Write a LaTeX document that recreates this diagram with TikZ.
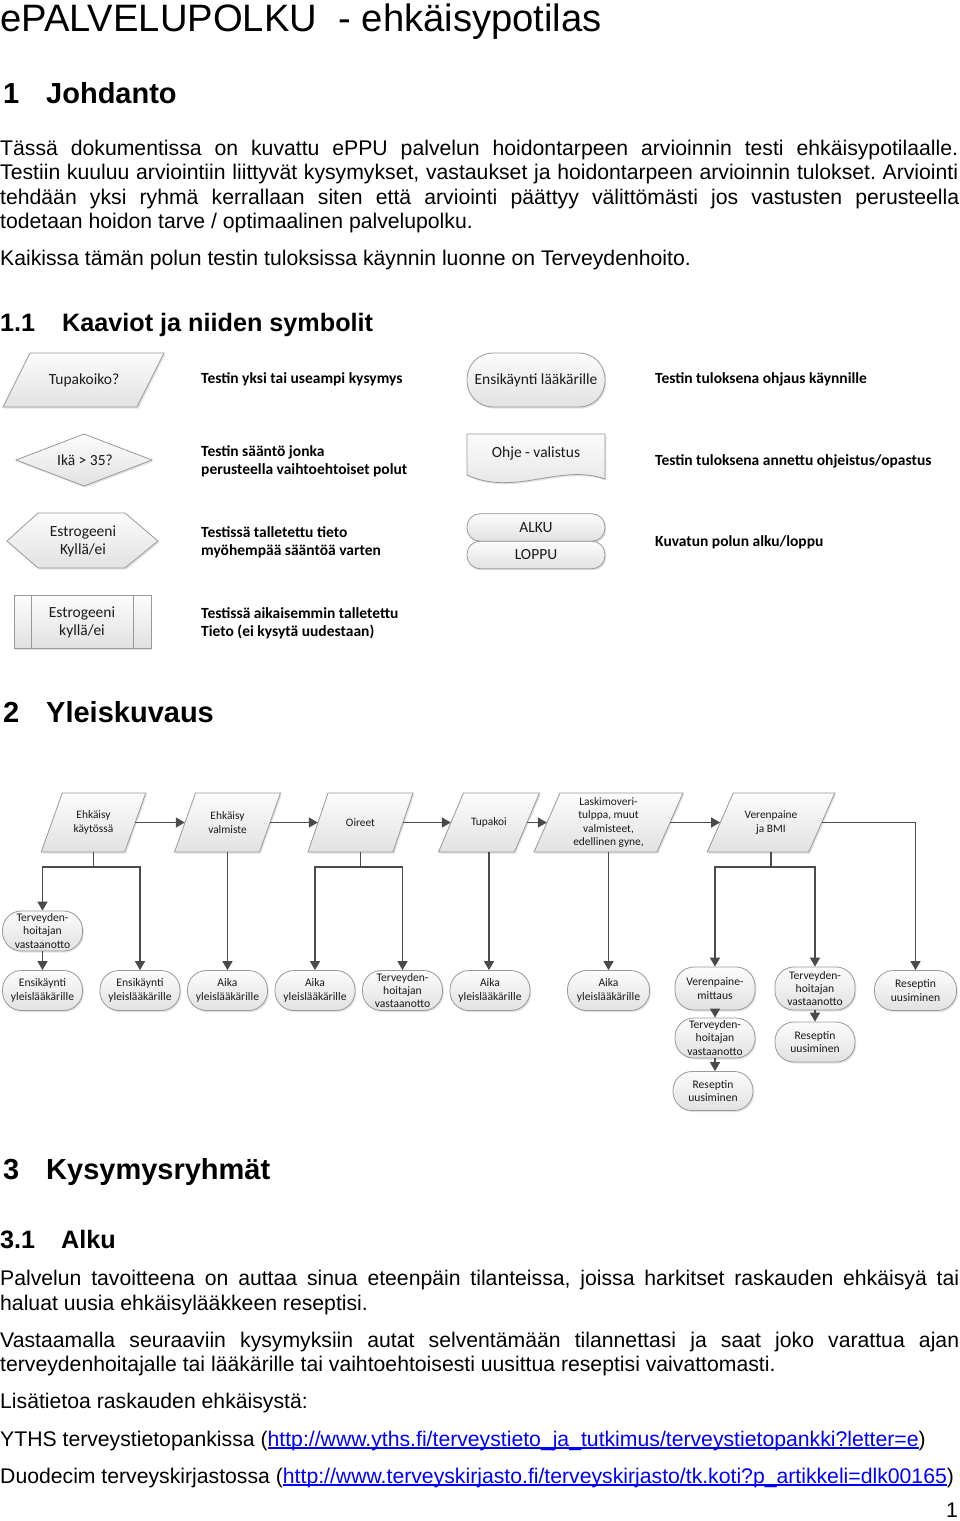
\documentclass[tikz,border=0pt]{standalone}
\usepackage{fontspec}
\setmainfont{Liberation Sans}
\newfontfamily\calfont{Carlito}
\usetikzlibrary{shadows,arrows.meta}
\definecolor{bord}{HTML}{999999}
\definecolor{ftop}{HTML}{FCFCFC}
\definecolor{fbot}{HTML}{E2E2E2}
\definecolor{arrc}{HTML}{4A4A4A}
\definecolor{linkc}{HTML}{0000FF}
\definecolor{stxt}{HTML}{1A1A1A}
\newcommand\myul[1]{\setbox0\hbox{#1}\rlap{\rule[-2.6pt]{\wd0}{1.3pt}}\box0}
\tikzset{
  shp/.style={draw=bord, line width=0.8pt, top color=ftop, bottom color=fbot,
    drop shadow={shadow xshift=1.3pt, shadow yshift=-1.6pt, opacity=0.22}},
  body/.style={anchor=base west, inner sep=0pt, font=\fontsize{21.2}{24}\selectfont},
  hone/.style={anchor=base west, inner sep=0pt, font=\bfseries\fontsize{29}{34}\selectfont},
  htwo/.style={anchor=base west, inner sep=0pt, font=\bfseries\fontsize{25.2}{30}\selectfont},
  stext/.style={inner sep=0pt, align=center, text=stxt, font=\calfont\fontsize{15.5}{18}\selectfont},
  slabel/.style={anchor=base west, inner sep=0pt, align=left, font=\calfont\bfseries\fontsize{15.5}{18}\selectfont},
  ptext/.style={inner sep=0pt, align=center, text=stxt, font=\calfont\fontsize{11.4}{13.5}\selectfont},
  term/.style={shp, rectangle, rounded corners=19pt, minimum width=80pt, minimum height=40pt,
    inner sep=0pt, align=center, text=stxt, font=\calfont\fontsize{11.6}{13.3}\selectfont},
  arr/.style={draw=arrc, line width=1.5pt, -{Triangle[length=9pt,width=10pt]}},
}
\newcommand\para[7]{%
  \path[shp] ({#2-#4/2+#5/2},{#3-#6/2}) -- ({#2+#4/2+#5/2},{#3-#6/2}) --
    ({#2+#4/2-#5/2},{#3+#6/2}) -- ({#2-#4/2-#5/2},{#3+#6/2}) -- cycle;
  \node[ptext, minimum width=#4pt, minimum height=#6pt] (#1) at (#2,#3) {#7};
}
\begin{document}
\frenchspacing
\begin{tikzpicture}[x=1pt,y=-1pt]
\useasboundingbox[fill=white] (0,0) rectangle (960,1521);

% Title and intro
\node[anchor=base west, inner sep=0pt, font=\fontsize{38.2}{44}\selectfont] (title) at (0,31) {ePALVELUPOLKU\ \ - ehkäisypotilas};
\node[hone] (h1a) at (3,103) {1};
\node[hone] (h1b) at (46,103) {Johdanto};
\node[body] (b1) at (0,155) {\makebox[958pt][s]{Tässä dokumentissa on kuvattu ePPU palvelun hoidontarpeen arvioinnin testi ehkäisypotilaalle.}};
\node[body] (b2) at (0,179) {\makebox[958pt][s]{Testiin kuuluu arviointiin liittyvät kysymykset, vastaukset ja hoidontarpeen arvioinnin tulokset. Arviointi}};
\node[body] (b3) at (0,204) {\makebox[959pt][s]{tehdään yksi ryhmä kerrallaan siten että arviointi päättyy välittömästi jos vastusten perusteella}};
\node[body] (b4) at (0,228) {todetaan hoidon tarve / optimaalinen palvelupolku.};
\node[body] (b5) at (0,265) {Kaikissa tämän polun testin tuloksissa käynnin luonne on Terveydenhoito.};
\node[htwo] (h11a) at (0,331) {1.1};
\node[htwo] (h11b) at (62,331) {Kaaviot ja niiden symbolit};

% Symbols table
\path[shp] (30,353) -- (164,353) -- (137,407) -- (3,407) -- cycle;
\node[stext] (s1) at (84,380) {Tupakoiko?};
\node[slabel] (l1) at (201,383.5) {Testin yksi tai useampi kysymys};
\node[shp, rectangle, rounded corners=26pt, minimum width=138pt, minimum height=54pt, stext] (s2) at (536,380) {Ensikäynti lääkärille};
\node[slabel] (l2) at (655,383.5) {Testin tuloksena ohjaus käynnille};

\path[shp] (16,460) -- (84,434) -- (152,460) -- (84,486) -- cycle;
\node[stext] (s3) at (85,460) {Ikä > 35?};
\node[slabel] (l3) at (201,474) {Testin sääntö jonka\\perusteella vaihtoehtoiset polut};
\path[shp] (467,434) -- (605,434) -- (605,479) .. controls (560,463) and (515,497) .. (467,475) -- cycle;
\node[stext] (s4) at (536,453) {Ohje - valistus};
\node[slabel] (l4) at (655,465.5) {Testin tuloksena annettu ohjeistus/opastus};

\path[shp] (7,541) -- (38,513) -- (125,513) -- (158,541) -- (125,568) -- (38,568) -- cycle;
\node[stext] (s5) at (83,541) {Estrogeeni\\Kyllä/ei};
\node[slabel] (l5) at (201,555) {Testissä talletettu tieto\\myöhempää sääntöä varten};
\node[shp, rectangle, rounded corners=13pt, minimum width=138pt, minimum height=27.5pt, stext] (s6a) at (536,527.5) {ALKU};
\node[shp, rectangle, rounded corners=13pt, minimum width=138pt, minimum height=27.5pt, stext] (s6b) at (536,555) {LOPPU};
\node[slabel] (l6) at (655,546) {Kuvatun polun alku/loppu};

\path[shp] (14,595) rectangle (151,648);
\draw[bord, line width=0.8pt] (31,595) -- (31,648) (133,595) -- (133,648);
\node[stext] (s7) at (82,622) {Estrogeeni\\kyllä/ei};
\node[slabel] (l7) at (201,636) {Testissä aikaisemmin talletettu\\Tieto (ei kysytä uudestaan)};

% Section 2
\node[hone] (h2a) at (3,722) {2};
\node[hone] (h2b) at (46,722) {Yleiskuvaus};

\para{P1}{93.5}{822.5}{83.5}{21}{59}{Ehkäisy\\käytössä}
\para{P2}{227.5}{822.5}{85}{21}{59}{Ehkäisy\\valmiste}
\para{P3}{360.5}{822.5}{85}{20}{59}{Oireet}
\para{P4}{489}{822.5}{76}{25}{59}{Tupakoi}
\para{P5}{608.5}{822.5}{123}{26}{59}{Laskimoveri-\\tulppa, muut\\valmisteet,\\edellinen gyne,}
\para{P6}{771}{822.5}{101.5}{26}{59}{Verenpaine\\ja BMI}

\node[term] (TH1) at (42.5,931) {Terveyden-\\hoitajan\\vastaanotto};
\node[term] (T1) at (42.5,990.5) {Ensikäynti\\yleislääkärille};
\node[term] (T2) at (140,990.5) {Ensikäynti\\yleislääkärille};
\node[term] (T3) at (227.5,990.5) {Aika\\yleislääkärille};
\node[term] (T4) at (315,990.5) {Aika\\yleislääkärille};
\node[term] (T5) at (402.5,990.5) {Terveyden-\\hoitajan\\vastaanotto};
\node[term] (T6) at (490,990.5) {Aika\\yleislääkärille};
\node[term, minimum width=82pt] (T7) at (608.5,990.5) {Aika\\yleislääkärille};
\node[term, minimum height=43pt] (T8) at (715,988.5) {Verenpaine-\\mittaus};
\node[term, minimum height=43pt] (T9) at (815,988.5) {Terveyden-\\hoitajan\\vastaanotto};
\node[term, minimum width=82pt] (T10) at (915.5,990.5) {Reseptin\\uusiminen};
\node[term] (T11) at (715,1038) {Terveyden-\\hoitajan\\vastaanotto};
\node[term] (T12) at (815,1042) {Reseptin\\uusiminen};
\node[term, minimum height=39pt] (T13) at (713,1091) {Reseptin\\uusiminen};

\draw[arr] (P1.east) -- (P2.west);
\draw[arr] (P2.east) -- (P3.west);
\draw[arr] (P3.east) -- (P4.west);
\draw[arr] (P4.east) -- (P5.west);
\draw[arr] (P5.east) -- (P6.west);

\draw[arr] (P1.south) -- ++(0,15) -| (TH1.north);
\draw[arr] (P1.south) -- ++(0,15) -| (T2.north);
\draw[arr] (TH1.south) -- (T1.north);
\draw[arr] (P2.south) -- (P2.south |- T3.north);
\draw[arr] (P3.south) -- ++(0,15) -| (T4.north);
\draw[arr] (P3.south) -- ++(0,15) -| (T5.north);
\draw[arr] (P4.south) -- (P4.south |- T6.north);
\draw[arr] (P5.south) -- (P5.south |- T7.north);
\draw[arr] (P6.south) -- ++(0,15) -| (T8.north);
\draw[arr] (P6.south) -- ++(0,15) -| (T9.north);
\draw[arr] (P6.east) -| (T10.north);
\draw[arr] (T8.south) -- (T11.north);
\draw[arr] (T11.south) -- (T13.north -| T11.south);
\draw[arr] (T9.south) -- (T12.north);

% Section 3
\node[hone] (h3a) at (3,1179) {3};
\node[hone] (h3b) at (46,1179) {Kysymysryhmät};
\node[htwo] (h31a) at (0,1248) {3.1};
\node[htwo] (h31b) at (61,1248) {Alku};
\node[body] (c1) at (0,1285) {\makebox[959pt][s]{Palvelun tavoitteena on auttaa sinua eteenpäin tilanteissa, joissa harkitset raskauden ehkäisyä tai}};
\node[body] (c2) at (0,1310) {haluat uusia ehkäisylääkkeen reseptisi.};
\node[body] (c3) at (0,1347) {\makebox[959pt][s]{Vastaamalla seuraaviin kysymyksiin autat selventämään tilannettasi ja saat joko varattua ajan}};
\node[body] (c4) at (0,1371) {terveydenhoitajalle tai lääkärille tai vaihtoehtoisesti uusittua reseptisi vaivattomasti.};
\node[body] (c5) at (0,1408) {Lisätietoa raskauden ehkäisystä:};
\node[body] (c6) at (0,1446) {YTHS terveystietopankissa (\textcolor{linkc}{\myul{http://www.yths.fi/terveystieto\_ja\_tutkimus/terveystietopankki?letter=e}})};
\node[body] (c7) at (0,1483) {Duodecim terveyskirjastossa (\textcolor{linkc}{\myul{http://www.terveyskirjasto.fi/terveyskirjasto/tk.koti?p\_artikkeli=dlk00165}})};
\node[body, anchor=base east] (pg) at (958,1517) {1};
\end{tikzpicture}
\end{document}
